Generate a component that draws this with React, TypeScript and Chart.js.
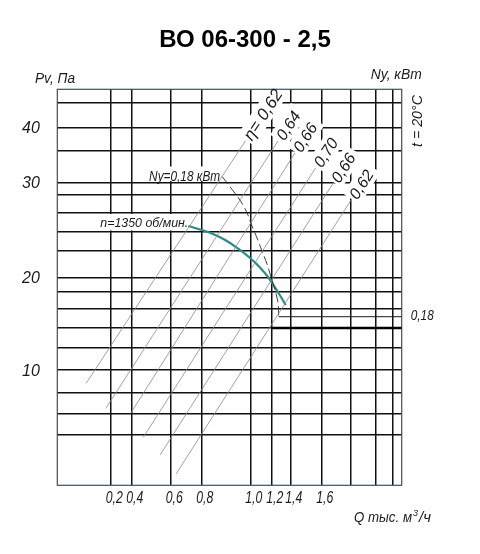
import React, { useEffect, useRef } from 'react';
import { Chart, registerables, LinearScale } from 'chart.js';

Chart.register(...registerables);

// ---------- data ----------
const title = 'ВО 06-300 - 2,5';
const pvAxisTitle = 'Pv, Па';
const nyAxisTitle = 'Ny, кВт';
const tempNote = 't = 20°C';

// Q, thousand m³/h: grid lines and labelled ticks
const qGrid = [0.2, 0.4, 0.6, 0.8, 1.0, 1.2, 1.4, 1.6, 1.8, 2.0, 2.2];
const qLabels = [0.2, 0.4, 0.6, 0.8, 1.0, 1.2, 1.4, 1.6];
// Pv, Pa: grid lines and labelled ticks
const pvGrid = [4, 6, 8, 10, 12, 14, 16, 18, 20, 22, 24, 26, 28, 30, 35, 40, 50];
const pvLabels = [10, 20, 30, 40];

// hand-drawn nomogram scales: value -> fraction of the axis
const qKnotValues = [0, 0.2, 0.4, 0.6, 0.8, 1.0, 1.2, 1.4, 1.6, 1.8, 2.0, 2.2, 2.3];
const qKnotFractions = [0, 0.1551, 0.2149, 0.3293, 0.4181, 0.5604, 0.6214, 0.6765, 0.7666, 0.8508, 0.9245, 0.9727, 1];
const pvKnotValues = [0, 4, 6, 8, 10, 12, 14, 16, 18, 20, 22, 24, 26, 28, 30, 35, 40, 50, 55];
const pvKnotFractions = [0, 0.127, 0.1818, 0.2348, 0.2919, 0.3485, 0.3972, 0.446, 0.4899, 0.5253, 0.5924, 0.6414, 0.6894, 0.7331, 0.7652, 0.8442, 0.904, 0.9662, 1];

// fan curve, n = 1350 rpm
const speedRpm = 1350;
const curveQ = [0.715, 0.792, 0.848, 0.901, 0.952, 0.999, 1.092, 1.169, 1.228, 1.292, 1.352];
const curvePv = [24.56, 24.19, 23.72, 23.05, 22.18, 21.45, 20.74, 20.02, 18.76, 17.52, 16.43];

// power line Ny = 0.18 kW
const nyValue = 0.18;
const nyQ = [0.885, 0.921, 0.96, 0.987, 1.016, 1.064, 1.111, 1.159, 1.197, 1.239, 1.271, 1.278];
const nyPv = [30.93, 29.1, 27.31, 25.93, 24.56, 23.31, 21.98, 21.0, 20.02, 18.19, 16.66, 15.17];
const nyLevelPv = 15.17;
const nyLevelQ = [1.278, 2.3];
const baseLevelPv = 14;
const baseLevelQ = [1.2, 2.3];

// efficiency lines
const etaValues = [0.62, 0.64, 0.66, 0.7, 0.66, 0.62];
const etaStartQ = [0.108, 0.182, 0.394, 0.461, 0.546, 0.635];
const etaStartPv = [8.8, 6.48, 6.0, 3.82, 2.41, 0.9];
const etaEndQ = [0.98, 1.271, 1.43, 1.563, 1.681, 1.806];
const etaEndPv = [37.11, 37.11, 34.68, 32.28, 29.84, 27.42];

// ---------- scale ----------
function interp(v: number, xs: number[], ys: number[]) {
  const n = xs.length - 1;
  if (v <= xs[0]) return ys[0] + ((v - xs[0]) * (ys[1] - ys[0])) / (xs[1] - xs[0]);
  for (let i = 1; i <= n; i++) {
    if (v <= xs[i]) return ys[i - 1] + ((v - xs[i - 1]) * (ys[i] - ys[i - 1])) / (xs[i] - xs[i - 1]);
  }
  return ys[n] + ((v - xs[n]) * (ys[n] - ys[n - 1])) / (xs[n] - xs[n - 1]);
}
const KNOTS: any = { x: [qKnotValues, qKnotFractions], y: [pvKnotValues, pvKnotFractions] };

class NomogramScale extends (LinearScale as any) {
  static id = 'nomogram';
  static defaults = {};
  getPixelForValue(value: any) {
    if (value === null || value === undefined || isNaN(value)) return NaN;
    const k = KNOTS[(this as any).id];
    return (this as any).getPixelForDecimal(interp(+value, k[0], k[1]));
  }
  getValueForPixel(pixel: number) {
    const k = KNOTS[(this as any).id];
    return interp((this as any).getDecimalForPixel(pixel), k[1], k[0]);
  }
}
Chart.register(NomogramScale as any);

// ---------- drawing helpers ----------
const FAM = "'Liberation Sans', Arial, sans-serif";
const INK = '#1b1b1b';
const comma = (v: number, d: number) => v.toFixed(d).replace('.', ',');

function text(ctx: any, s: string, x: number, y: number, o: any = {}) {
  ctx.save();
  ctx.font = `${o.bold ? 'bold ' : ''}${o.italic === false ? '' : 'italic '}${o.size || 15}px ${FAM}`;
  ctx.fillStyle = o.color || INK;
  ctx.textAlign = o.align || 'left';
  ctx.textBaseline = o.baseline || 'alphabetic';
  ctx.translate(x, y);
  if (o.rot) ctx.rotate(o.rot);
  if (o.maxW) ctx.fillText(s, 0, 0, o.maxW);
  else ctx.fillText(s, 0, 0);
  ctx.restore();
}

function etaLabel(i: number) {
  return (i === 0 ? 'η= ' : '') + comma(etaValues[i], 2);
}

function etaGeom(chart: any, i: number) {
  const x = chart.scales.x, y = chart.scales.y;
  const x0 = x.getPixelForValue(etaStartQ[i]), y0 = y.getPixelForValue(etaStartPv[i]);
  const x1 = x.getPixelForValue(etaEndQ[i]), y1 = y.getPixelForValue(etaEndPv[i]);
  const ctx = chart.ctx;
  ctx.save();
  ctx.font = `italic ${i === 0 ? 17 : 16}px ${FAM}`;
  const w = ctx.measureText(etaLabel(i)).width;
  ctx.restore();
  return { px: x1, py: y1, ang: Math.atan2(y1 - y0, x1 - x0), w };
}

const decor = {
  id: 'decor',
  beforeDatasetsDraw(chart: any) {
    const { ctx, chartArea: a, scales } = chart;
    const x = scales.x, y = scales.y;
    ctx.save();
    ctx.fillStyle = '#ffffff';
    etaValues.forEach((_, i) => {
      const g = etaGeom(chart, i);
      ctx.save();
      ctx.translate(g.px, g.py);
      ctx.rotate(g.ang);
      ctx.fillRect(1, -10, g.w + 7, 20);
      ctx.restore();
    });
    // Ny label background
    const nx = x.getPixelForValue(nyQ[0]);
    const ny = y.getPixelForValue(nyPv[0]);
    ctx.fillRect(nx - 75, ny - 10, 74, 14.5);
    // speed label background
    const sx = x.getPixelForValue(curveQ[0]);
    const sy = y.getPixelForValue(curvePv[0]);
    ctx.fillRect(sx - 90, sy - 12, 90, 16.5);
    ctx.strokeStyle = '#3b4f63';
    ctx.lineWidth = 1.2;
    ctx.strokeRect(a.left, a.top, a.right - a.left, a.bottom - a.top);
    ctx.restore();
  },
  afterDatasetsDraw(chart: any) {
    const { ctx, chartArea: a, scales } = chart;
    const x = scales.x, y = scales.y;
    // title and axis names
    text(ctx, title, 245, 46.7, { size: 24, bold: true, italic: false, align: 'center', color: '#000', maxW: 178 });
    text(ctx, pvAxisTitle, 35, 82.7, { size: 14, maxW: 40 });
    text(ctx, nyAxisTitle, 370.7, 79, { size: 15, maxW: 51 });
    text(ctx, tempNote, 417.5, 121, { size: 15, align: 'center', baseline: 'middle', rot: -Math.PI / 2, maxW: 52 });
    // y tick labels
    pvLabels.forEach((v) => {
      text(ctx, String(v), a.left - 17.5, y.getPixelForValue(v) + 5.8, { size: 16, align: 'right', maxW: 20 });
    });
    // x tick labels
    qLabels.forEach((v) => {
      text(ctx, comma(v, 1), x.getPixelForValue(v) + 3.5, a.bottom + 17.4, { size: 16, align: 'center', maxW: 17 });
    });
    // x axis name
    text(ctx, 'Q тыс. м', 354, 521.5, { size: 15, maxW: 58 });
    text(ctx, '3', 413, 516, { size: 9 });
    text(ctx, '/ч', 419, 521.5, { size: 15 });
    // efficiency labels
    etaValues.forEach((_, i) => {
      const g = etaGeom(chart, i);
      ctx.save();
      ctx.translate(g.px, g.py);
      ctx.rotate(g.ang);
      text(ctx, etaLabel(i), 3, 5.8, { size: i === 0 ? 17 : 16 });
      ctx.restore();
    });
    // power label
    const nx = x.getPixelForValue(nyQ[0]);
    const ny = y.getPixelForValue(nyPv[0]);
    text(ctx, 'Ny=' + comma(nyValue, 2) + ' кВт', nx - 2, ny + 4.2, { size: 15, align: 'right', maxW: 71 });
    text(ctx, comma(nyValue, 2), a.right + 9, y.getPixelForValue(nyLevelPv) + 3.5, { size: 14, maxW: 23 });
    // speed label
    const sx = x.getPixelForValue(curveQ[0]);
    const sy = y.getPixelForValue(curvePv[0]);
    text(ctx, 'n=' + speedRpm + ' об/мин.', sx, sy + 1.3, { size: 13.5, align: 'right', maxW: 88 });
  },
};

// ---------- component ----------
export default function App() {
  const ref = useRef<HTMLCanvasElement | null>(null);
  useEffect(() => {
    if (!ref.current) return;
    const pts = (qs: number[], ps: number[]) => qs.map((q, i) => ({ x: q, y: ps[i] }));
    const etaSets = etaValues.map((v, i) => ({
      label: 'η ' + v,
      data: [
        { x: etaStartQ[i], y: etaStartPv[i] },
        { x: etaEndQ[i], y: etaEndPv[i] },
      ],
      borderColor: '#8a8a8a',
      borderWidth: 0.8,
      pointRadius: 0,
      tension: 0,
    }));
    const chart = new Chart(ref.current, {
      type: 'line',
      data: {
        datasets: [
          ...etaSets,
          {
            label: 'Ny',
            data: pts(nyQ, nyPv),
            borderColor: '#2a2a2a',
            borderWidth: 0.9,
            borderDash: [9, 4],
            pointRadius: 0,
            tension: 0.3,
          },
          {
            label: 'Ny level',
            data: nyLevelQ.map((q) => ({ x: q, y: nyLevelPv })),
            borderColor: '#1b1b1b',
            borderWidth: 1,
            pointRadius: 0,
          },
          {
            label: 'base',
            data: baseLevelQ.map((q) => ({ x: q, y: baseLevelPv })),
            borderColor: '#000',
            borderWidth: 2.6,
            pointRadius: 0,
          },
          {
            label: 'n',
            data: pts(curveQ, curvePv),
            borderColor: '#2a8c87',
            borderWidth: 2.2,
            pointRadius: 0,
            tension: 0.4,
          },
        ] as any,
      },
      options: {
        responsive: false,
        animation: false,
        events: [],
        layout: { padding: { left: 57.3, top: 89.3, right: 78.3, bottom: 68.7 } },
        plugins: { legend: { display: false }, tooltip: { enabled: false } },
        scales: {
          x: {
            type: 'nomogram' as any,
            min: 0,
            max: 2.3,
            afterBuildTicks: (s: any) => {
              s.ticks = qGrid.map((v) => ({ value: v }));
            },
            ticks: { display: false },
            grid: { color: '#111', lineWidth: 1.5, drawTicks: false },
            border: { display: false },
          },
          y: {
            type: 'nomogram' as any,
            min: 0,
            max: 55,
            afterBuildTicks: (s: any) => {
              s.ticks = pvGrid.map((v) => ({ value: v }));
            },
            ticks: { display: false },
            grid: { color: '#111', lineWidth: 1.5, drawTicks: false },
            border: { display: false },
          },
        } as any,
      },
      plugins: [decor],
    });
    return () => chart.destroy();
  }, []);
  return (
    <div style={{ position: 'absolute', left: 0, top: 0, width: 480, height: 554, background: '#fff' }}>
      <canvas ref={ref} width={480} height={554} style={{ display: 'block' }} />
    </div>
  );
}
